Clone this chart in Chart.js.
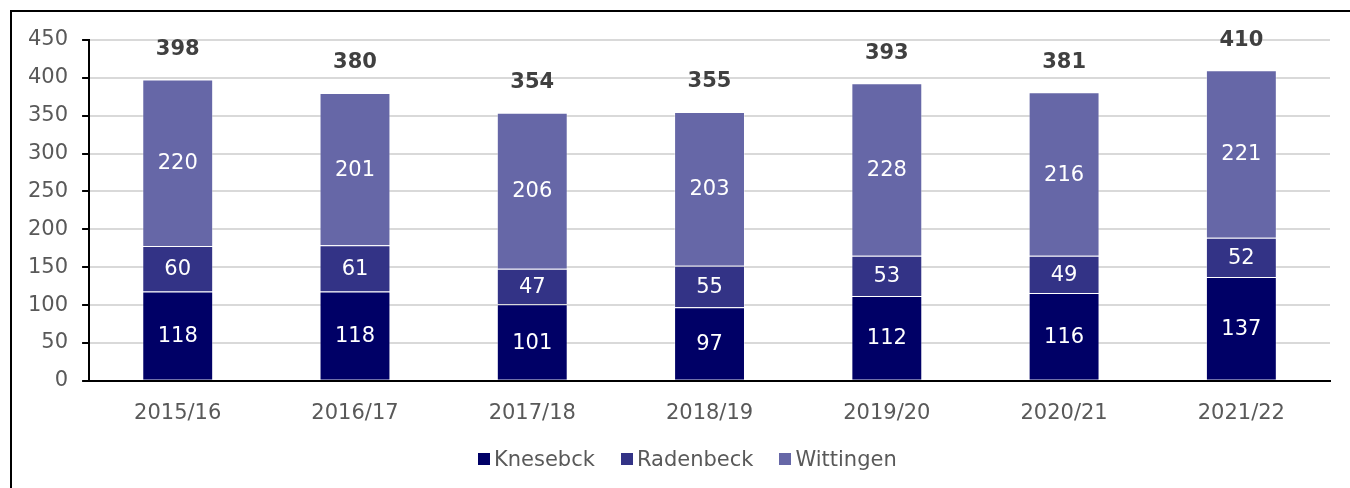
<!DOCTYPE html>
<html>
<head>
<meta charset="utf-8">
<script src="https://cdn.jsdelivr.net/npm/chart.js@4/dist/chart.umd.min.js"></script>
<style>
  body { margin: 0; background: #fff; }
  #wrap { position: absolute; left: 0; top: 0; width: 1350px; height: 488px; }
  #frame { position: absolute; left: 10px; top: 10px; width: 1345px; height: 485px;
           border-left: 2px solid #000; border-top: 2px solid #000; pointer-events: none; }
  #legend { position: absolute; left: 478px; top: 446px; display: flex;
            font: 21px 'DejaVu Sans', Verdana, sans-serif; color: #595959; line-height: 26px; }
  #legend span.item { display: flex; align-items: center; margin-right: 26px; }
  #legend span.box { display: inline-block; width: 12px; height: 12px; margin-right: 4px; }
</style>
</head>
<body>
<div id="wrap"><canvas id="chart" width="1350" height="488"></canvas></div>
<div id="legend"></div>
<div id="frame"></div>
<script>
// years on the x axis
var years = ['2015/16', '2016/17', '2017/18', '2018/19', '2019/20', '2020/21', '2021/22'];
// one array per location
var knesebck  = [118, 118, 101, 97, 112, 116, 137];
var radenbeck = [60, 61, 47, 55, 53, 49, 52];
var wittingen = [220, 201, 206, 203, 228, 216, 221];

var font = 'DejaVu Sans, Verdana, sans-serif';

// white numbers in the middle of each piece of the bar
var segmentLabels = {
  id: 'segmentLabels',
  afterDatasetsDraw: function(chart) {
    var ctx = chart.ctx;
    ctx.save();
    ctx.font = '21px ' + font;
    ctx.fillStyle = '#ffffff';
    ctx.textAlign = 'center';
    ctx.textBaseline = 'middle';
    chart.data.datasets.forEach(function(ds, i) {
      var meta = chart.getDatasetMeta(i);
      meta.data.forEach(function(bar, j) {
        ctx.fillText(ds.data[j], bar.x, (bar.y + bar.base) / 2 + 1);
      });
    });
    ctx.restore();
  }
};

// bold total above each stack
var totalLabels = {
  id: 'totalLabels',
  afterDatasetsDraw: function(chart) {
    var ctx = chart.ctx;
    var y = chart.scales.y;
    var top = chart.getDatasetMeta(chart.data.datasets.length - 1);
    ctx.save();
    ctx.font = 'bold 21px ' + font;
    ctx.fillStyle = '#404040';
    ctx.textAlign = 'center';
    ctx.textBaseline = 'middle';
    years.forEach(function(yr, j) {
      var total = knesebck[j] + radenbeck[j] + wittingen[j];
      ctx.fillText(total, top.data[j].x, y.getPixelForValue(total) - 30);
    });
    ctx.restore();
  }
};

var chart = new Chart(document.getElementById('chart'), {
  type: 'bar',
  data: {
    labels: years,
    datasets: [
      { label: 'Knesebck',  data: knesebck,  backgroundColor: '#000066' },
      { label: 'Radenbeck', data: radenbeck, backgroundColor: '#333386' },
      { label: 'Wittingen', data: wittingen, backgroundColor: '#6667a7' }
    ]
  },
  options: {
    responsive: false,
    animation: false,
    datasets: {
      bar: {
        categoryPercentage: 1,
        barPercentage: 0.4,
        borderWidth: 1,
        borderColor: 'rgba(255,255,255,0.35)'
      }
    },
    layout: { padding: { left: 14, right: 20, top: 40, bottom: 50 } },
    plugins: {
      legend: { display: false },
      tooltip: { enabled: false }
    },
    scales: {
      x: {
        stacked: true,
        grid: { display: false },
        border: { color: '#000', width: 2 },
        ticks: { color: '#595959', font: { family: font, size: 21 }, padding: 12 }
      },
      y: {
        stacked: true,
        min: 0,
        max: 450,
        grid: { color: '#d9d9d9', lineWidth: 2, tickColor: '#000', tickLength: 7 },
        border: { color: '#000', width: 2 },
        ticks: { stepSize: 50, color: '#595959', font: { family: font, size: 21 }, padding: 14 }
      }
    }
  },
  plugins: [segmentLabels, totalLabels]
});

// legend as html, same labels and colours as the datasets
var legend = document.getElementById('legend');
chart.data.datasets.forEach(function(ds) {
  var item = document.createElement('span');
  item.className = 'item';
  var box = document.createElement('span');
  box.className = 'box';
  box.style.background = ds.backgroundColor;
  item.appendChild(box);
  item.appendChild(document.createTextNode(ds.label));
  legend.appendChild(item);
});
</script>
</body>
</html>
